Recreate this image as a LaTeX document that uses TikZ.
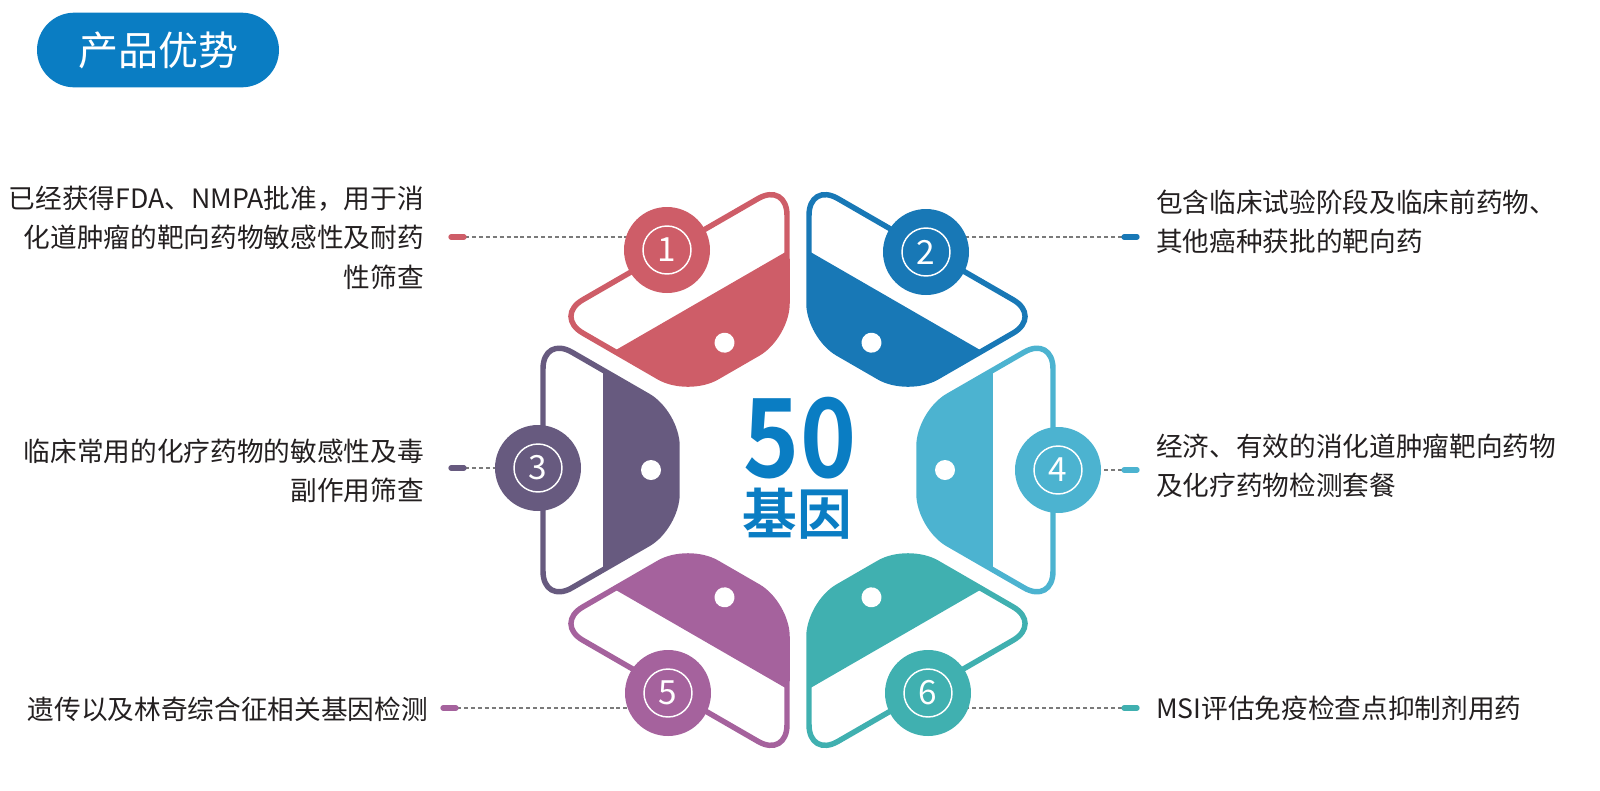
\documentclass[tikz,border=0pt]{standalone}
\usepackage{fontspec}
\setmainfont{Noto Sans CJK SC}
\newfontfamily\boldcjk{Noto Sans CJK SC Bold}
\definecolor{cA}{HTML}{CE5D68}
\definecolor{cB}{HTML}{1878B6}
\definecolor{cC}{HTML}{675A7F}
\definecolor{cD}{HTML}{4CB3D0}
\definecolor{cE}{HTML}{A5629D}
\definecolor{cF}{HTML}{40B0B0}
\definecolor{blueT}{HTML}{0A7DC3}
\definecolor{txt}{HTML}{231F20}
\definecolor{lead}{HTML}{7A7A7A}
\tikzset{
  numcirc/.style={circle, fill=#1, minimum size=64.5pt, inner sep=0pt, text=white, font=\fontsize{25}{25}\selectfont},
  desc/.style={text=txt, inner sep=0pt, font=\fontsize{20}{29.6}\selectfont},
  leader/.style={draw=lead, line width=0.8pt, dash pattern=on 3pt off 2.2pt},
  marker/.style={line width=4pt, line cap=round, draw=#1},
}
\newcommand{\piecepath}{(121,-57.2) -- (255,-134.5) -- (255,134.5) -- (121,57.2) -- cycle}
\newcommand{\hexpiece}[2]{%
  \begin{scope}[shift={(798,470)}, yscale=-1, rotate=-#1]
    \begin{scope}
      \clip[rounded corners=25pt] \piecepath;
      \fill[#2] (100,-200) rectangle (195,200);
    \end{scope}
    \draw[#2, line width=4.1pt, rounded corners=25pt] \piecepath;
    \fill[white] (147,0) circle (10);
  \end{scope}}
\begin{document}
\begin{tikzpicture}[x=0.75pt,y=-0.75pt]
\useasboundingbox (0,0) rectangle (1600,790);
% title
\node[fill=blueT, rounded corners=28pt, minimum width=181.5pt, minimum height=56pt, inner sep=0pt, text=white, font=\fontsize{30}{30}\selectfont] (title) at (158,50) {产品优势};
% pieces
\hexpiece{120}{cA}
\hexpiece{60}{cB}
\hexpiece{180}{cC}
\hexpiece{0}{cD}
\hexpiece{240}{cE}
\hexpiece{300}{cF}
% center
\node[text=blueT, font=\boldcjk\fontsize{82}{82}\selectfont, xscale=0.87, inner sep=0pt] (fifty) at (800,438) {50};
\node[text=blueT, font=\boldcjk\fontsize{41}{41}\selectfont, inner sep=0pt] (gene) at (797,514) {基因};
% markers
\coordinate (m1) at (457,237);
\coordinate (m2) at (1130,237);
\coordinate (m3) at (457,468);
\coordinate (m4) at (1130,470);
\coordinate (m5) at (449,708);
\coordinate (m6) at (1130,708);
\coordinate (k1) at (667,250);
\coordinate (k2) at (926,252);
\coordinate (k3) at (538,468);
\coordinate (k4) at (1058,470);
\coordinate (k5) at (668,693);
\coordinate (k6) at (928,693);
\draw[leader] (465,237) -- (m1 -| k1);
\draw[leader] (1122,237) -- (m2 -| k2);
\draw[leader] (465,468) -- (m3 -| k3);
\draw[leader] (1122,470) -- (m4 -| k4);
\draw[leader] (457,708) -- (m5 -| k5);
\draw[leader] (1122,708) -- (m6 -| k6);
\draw[marker=cA] (451,237) -- (464,237);
\draw[marker=cB] (1124,237) -- (1137,237);
\draw[marker=cC] (451,468) -- (464,468);
\draw[marker=cD] (1124,470) -- (1137,470);
\draw[marker=cE] (443,708) -- (456,708);
\draw[marker=cF] (1124,708) -- (1137,708);
% number circles
\foreach \n/\c in {1/cA,2/cB,3/cC,4/cD,5/cE,6/cF}{
  \node[numcirc=\c] (c\n) at (k\n) {\n};
  \draw[white, line width=1.1pt] (c\n.center) circle (24);
}
% descriptions
\node[desc, align=right, anchor=east] (t1) at (424,237.5) {已经获得FDA、NMPA批准，用于消\\化道肿瘤的靶向药物敏感性及耐药\\性筛查};
\node[desc, align=left, anchor=west] (t2) at (1156,222) {包含临床试验阶段及临床前药物、\\其他癌种获批的靶向药};
\node[desc, align=right, anchor=east] (t3) at (424,471) {临床常用的化疗药物的敏感性及毒\\副作用筛查};
\node[desc, align=left, anchor=west] (t4) at (1156,466) {经济、有效的消化道肿瘤靶向药物\\及化疗药物检测套餐};
\node[desc, anchor=east] (t5) at (428,709) {遗传以及林奇综合征相关基因检测};
\node[desc, anchor=west] (t6) at (1156,708) {MSI评估免疫检查点抑制剂用药};
\end{tikzpicture}
\end{document}
